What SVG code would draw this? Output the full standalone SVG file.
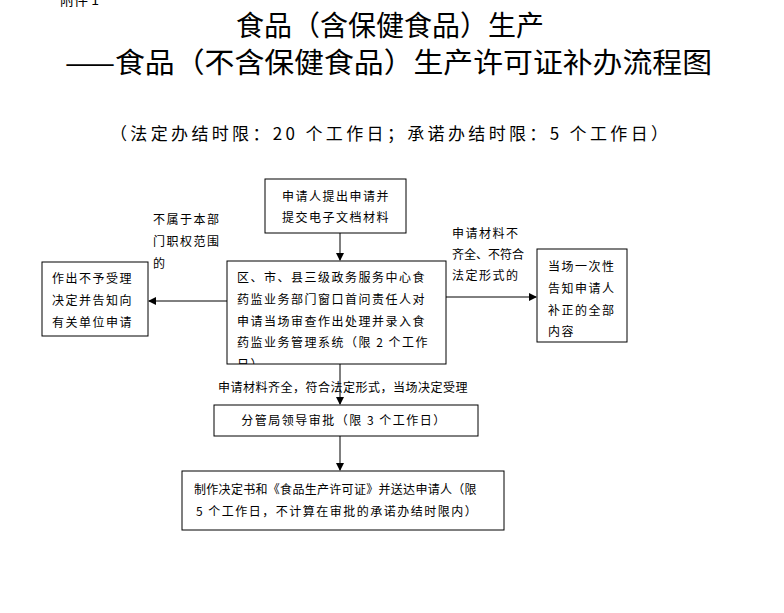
<svg xmlns="http://www.w3.org/2000/svg" width="784" height="613" viewBox="0 0 784 613">
<style>
.t{font-family:"Noto Sans CJK SC","Liberation Sans",sans-serif;fill:#000}
.s{font-size:12px;letter-spacing:1.5px}
.b{fill:#fff;stroke:#000;stroke-width:1}
.c{stroke:#000;stroke-width:1;fill:none}
</style>
<defs>
<marker id="a" markerWidth="8" markerHeight="8" refX="7" refY="4" orient="auto" markerUnits="userSpaceOnUse"><path d="M0,0L8,4L0,8z" fill="#000"/></marker>
<clipPath id="cm"><rect x="227" y="261" width="219" height="103"/></clipPath>
</defs>
<rect width="784" height="613" fill="#fff"/>
<text class="t" x="60" y="5" font-size="14">附件 1</text>
<text class="t" x="390" y="36" font-size="28" text-anchor="middle">食品（含保健食品）生产</text>
<text class="t" x="65" y="73" font-size="28" textLength="647" lengthAdjust="spacingAndGlyphs">——食品（不含保健食品）生产许可证补办流程图</text>
<text class="t" x="110" y="140" font-size="17" textLength="558" lengthAdjust="spacing">（法定办结时限：20 个工作日；承诺办结时限：5 个工作日）</text>
<g id="connectors">
<line class="c" x1="340" y1="233" x2="340" y2="260" marker-end="url(#a)"/>
<line class="c" x1="227" y1="301" x2="149" y2="301" marker-end="url(#a)"/>
<line class="c" x1="446" y1="297" x2="536" y2="297" marker-end="url(#a)"/>
<line class="c" x1="340" y1="364" x2="340" y2="404" marker-end="url(#a)"/>
<line class="c" x1="340" y1="436" x2="340" y2="470" marker-end="url(#a)"/>
</g>
<g id="l1" class="t s"><text x="153" y="224">不属于本部</text><text x="153" y="246">门职权范围</text><text x="153" y="268">的</text></g>
<g id="l2" class="t s"><text x="452" y="238">申请材料不</text><text x="452" y="259" letter-spacing="0">齐全、不符合</text><text x="452" y="280">法定形式的</text></g>
<g id="l3" class="t s"><text x="218" y="392" letter-spacing="0.5">申请材料齐全，符合法定形式，当场决定受理</text></g>
<g id="n1"><rect class="b" x="265" y="179" width="141" height="54"/><text class="t s" x="336" y="201" text-anchor="middle">申请人提出申请并</text><text class="t s" x="336" y="222" text-anchor="middle">提交电子文档材料</text></g>
<g id="n2"><rect class="b" x="227" y="261" width="219" height="103"/><g clip-path="url(#cm)" class="t s"><text x="237" y="282">区、市、县三级政务服务中心食</text><text x="237" y="304">药监业务部门窗口首问责任人对</text><text x="237" y="326">申请当场审查作出处理并录入食</text><text x="237" y="347">药监业务管理系统（限 2 个工作</text><text x="237" y="369">日）</text></g></g>
<g id="n3"><rect class="b" x="42" y="262" width="106" height="74"/><g class="t s"><text x="52" y="283">作出不予受理</text><text x="52" y="305">决定并告知向</text><text x="52" y="327">有关单位申请</text></g></g>
<g id="n4"><rect class="b" x="537" y="249" width="90" height="93"/><g class="t s"><text x="548" y="271">当场一次性</text><text x="548" y="293">告知申请人</text><text x="548" y="315">补正的全部</text><text x="548" y="336">内容</text></g></g>
<g id="n5"><rect class="b" x="214" y="405" width="264" height="31"/><text class="t s" x="344" y="425" text-anchor="middle">分管局领导审批（限 3 个工作日）</text></g>
<g id="n6"><rect class="b" x="182" y="471" width="322" height="59"/><g class="t s"><text x="194" y="494" letter-spacing="0.3">制作决定书和《食品生产许可证》并送达申请人（限</text><text x="196" y="516">5 个工作日，不计算在审批的承诺办结时限内）</text></g></g>
</svg>
